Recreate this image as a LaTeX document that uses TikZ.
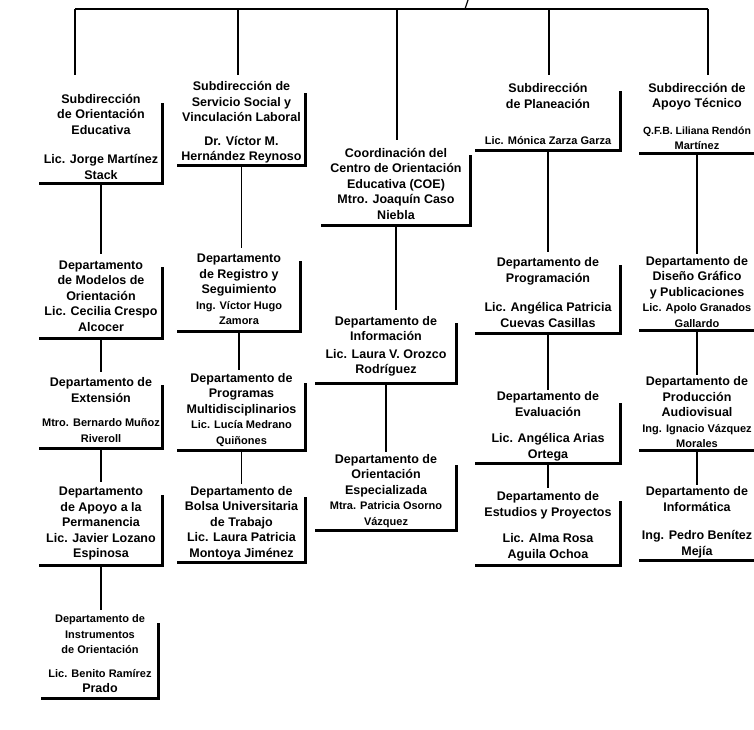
\documentclass[tikz,border=0pt]{standalone}
\usepackage{fontspec}
\setmainfont{Liberation Sans}
\tikzset{
  obox/.style={inner sep=0pt, align=center, font=\bfseries\fontsize{12.5}{15.5}\selectfont},
  shadowline/.style={line width=2.6pt, line cap=rect},
  conn/.style={line width=1.2pt},
}
\newcommand\nm[1]{{\fontsize{11}{15.5}\selectfont #1}}
\newcommand\orgbox[6]{%
  \node[obox, minimum width=#4pt, minimum height=#5pt] (#1) at (#2,#3) {#6};
  \draw[shadowline] ([yshift=-14pt]#1.north east) -- (#1.south east) -- (#1.south west);
}
\newcommand\orgboxopen[6]{%
  \node[obox, minimum width=#4pt, minimum height=#5pt] (#1) at (#2,#3) {#6};
  \draw[shadowline] (#1.south east) -- (#1.south west);
}
\begin{document}
\begin{tikzpicture}[x=1pt,y=-1pt]
\useasboundingbox (0,0) rectangle (754,729);
% column 1
\orgbox{b11}{101}{136.5}{122}{93}{Subdirección\\de Orientación\\Educativa\\[14pt]Lic. Jorge Martínez\\Stack}
\orgbox{b12}{101}{296}{122}{84}{Departamento\\de Modelos de\\Orientación\\Lic. Cecilia Crespo\\Alcocer}
\orgbox{b13}{101}{410}{122}{76}{Departamento de\\Extensión\\[9pt]\nm{Mtro. Bernardo Muñoz}\\\nm{Riveroll}}
\orgbox{b14}{101}{523.5}{122}{83}{Departamento\\de Apoyo a la\\Permanencia\\Lic. Javier Lozano\\Espinosa}
\orgbox{b15}{100}{654}{116}{88}{\nm{Departamento de}\\\nm{Instrumentos}\\\nm{de Orientación}\\[8pt]\nm{Lic. Benito Ramírez}\\Prado}
% column 2
\orgbox{b21}{241.5}{122.5}{127}{85}{Subdirección de\\Servicio Social y\\Vinculación Laboral\\[8pt]Dr. Víctor M.\\Hernández Reynoso}
\orgbox{b22}{239}{289.5}{122}{83}{Departamento\\de Registro y\\Seguimiento\\\nm{Ing. Víctor Hugo}\\\nm{Zamora}}
\orgbox{b23}{241.5}{410}{127}{80}{Departamento de\\Programas\\Multidisciplinarios\\\nm{Lic. Lucía Medrano}\\\nm{Quiñones}}
\orgbox{b24}{241.5}{523}{127}{78}{Departamento de\\Bolsa Universitaria\\de Trabajo\\Lic. Laura Patricia\\Montoya Jiménez}
% column 3
\orgbox{b31}{396}{183.5}{148}{83}{Coordinación del\\Centro de Orientación\\Educativa (COE)\\Mtro. Joaquín Caso\\Niebla}
\orgbox{b32}{386}{346.5}{140}{73}{Departamento de\\Información\\[2pt]Lic. Laura V. Orozco\\Rodríguez}
\orgbox{b33}{386}{491}{140}{78}{Departamento de\\Orientación\\Especializada\\\nm{Mtra. Patricia Osorno}\\\nm{Vázquez}}
% column 4
\orgbox{b41}{548}{114}{144}{72}{Subdirección\\de Planeación\\[21pt]\nm{Lic. Mónica Zarza Garza}}
\orgbox{b42}{548}{292.5}{144}{81}{Departamento de\\Programación\\[14pt]Lic. Angélica Patricia\\Cuevas Casillas}
\orgbox{b43}{548}{426.5}{144}{73}{Departamento de\\Evaluación\\[11pt]Lic. Angélica Arias\\Ortega}
\orgbox{b44}{548}{526.5}{144}{77}{Departamento de\\Estudios y Proyectos\\[11pt]Lic. Alma Rosa\\Aguila Ochoa}
% column 5
\orgboxopen{b51}{697}{116.5}{114}{73}{Subdirección de\\Apoyo Técnico\\[11pt]{\fontsize{10.5}{15.5}\selectfont Q.F.B. Liliana Rendón}\\\nm{Martínez}}
\orgboxopen{b52}{697}{292}{114}{76}{Departamento de\\Diseño Gráfico\\y Publicaciones\\\nm{Lic. Apolo Granados}\\\nm{Gallardo}}
\orgboxopen{b53}{697}{412.5}{114}{75}{Departamento de\\Producción\\Audiovisual\\\nm{Ing. Ignacio Vázquez}\\\nm{Morales}}
\orgboxopen{b54}{697}{522.5}{114}{75}{Departamento de\\Informática\\[13pt]Ing. Pedro Benítez\\Mejía}
% top bus
\coordinate (up) at (468,0);
\coordinate (bus0) at (465,9);
\coordinate (bus1) at (75,9);
\coordinate (bus2) at (238,9);
\coordinate (bus3) at (397,9);
\coordinate (bus4) at (549,9);
\coordinate (bus5) at (708,9);
\coordinate (e1) at (75,75);
\coordinate (e2) at (238,75);
\coordinate (e3) at (397,140);
\coordinate (e4) at (549,75);
\coordinate (e5) at (708,75);
\draw[conn] (bus1) -- (bus5);
\draw[conn] (bus0) -- (up);
\foreach \i in {1,...,5} {\draw[conn] (bus\i) -- (e\i);}
% column connectors
\draw[conn] (b11.south) -- (b11.south |- b12.north);
\draw[conn] (b12.south) -- (b12.south |- b13.north);
\draw[conn] (b13.south) -- (b13.south |- b14.north);
\draw[conn] (b14.south) -- (b14.south |- b15.north);
\draw[conn] (b21.south) -- (b21.south |- b22.north);
\draw[conn] (b22.south) -- (b22.south |- b23.north);
\draw[conn] (b23.south) -- (b23.south |- b24.north);
\draw[conn] (b31.south) -- (b31.south |- b32.north);
\draw[conn] (b32.south) -- (b32.south |- b33.north);
\draw[conn] (b41.south) -- (b41.south |- b42.north);
\draw[conn] (b42.south) -- (b42.south |- b43.north);
\draw[conn] (b43.south) -- (b43.south |- b44.north);
\draw[conn] (b51.south) -- (b51.south |- b52.north);
\draw[conn] (b52.south) -- (b52.south |- b53.north);
\draw[conn] (b53.south) -- (b53.south |- b54.north);
\end{tikzpicture}
\end{document}
